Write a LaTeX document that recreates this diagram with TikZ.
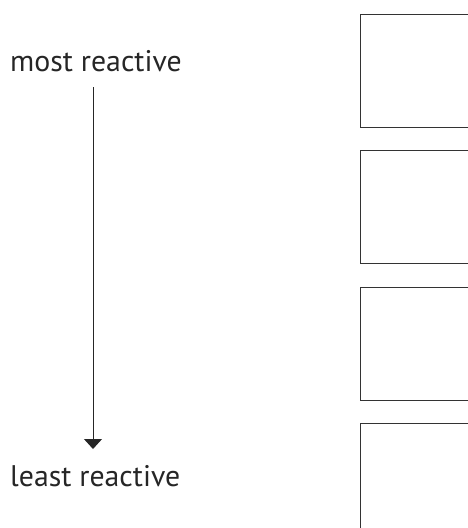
\documentclass[tikz,border=0pt]{standalone}
\usepackage{fontspec}
\setmainfont{PT Sans}
\usetikzlibrary{arrows.meta}
\tikzstyle{slot}=[draw=black!80, line width=1.3pt, minimum width=130pt, minimum height=113pt, anchor=north west, inner sep=0pt]
\tikzstyle{lbl}=[anchor=base west, inner sep=0pt, font=\fontsize{29.8}{34}\selectfont, text=black!85]

\begin{document}
\begin{tikzpicture}[x=1pt,y=-1pt]
            \useasboundingbox (0,0) rectangle (467,528);
            % Etiquetas
            \node[lbl] (most) at (10,71) {most reactive};
            \node[lbl] (least) at (10,486) {least reactive};
            % Flecha
            \coordinate (top) at (93,87);
            \coordinate (bot) at (93,449);
            \draw[line width=1pt, black!85, -{Triangle[width=18pt,length=10pt]}] (top) -- (bot);
            % Casillas
            \foreach \i/\y in {1/14,2/150,3/287,4/423}
                \node[slot] (box\i) at (360,\y) {};
        \end{tikzpicture}
\end{document}
